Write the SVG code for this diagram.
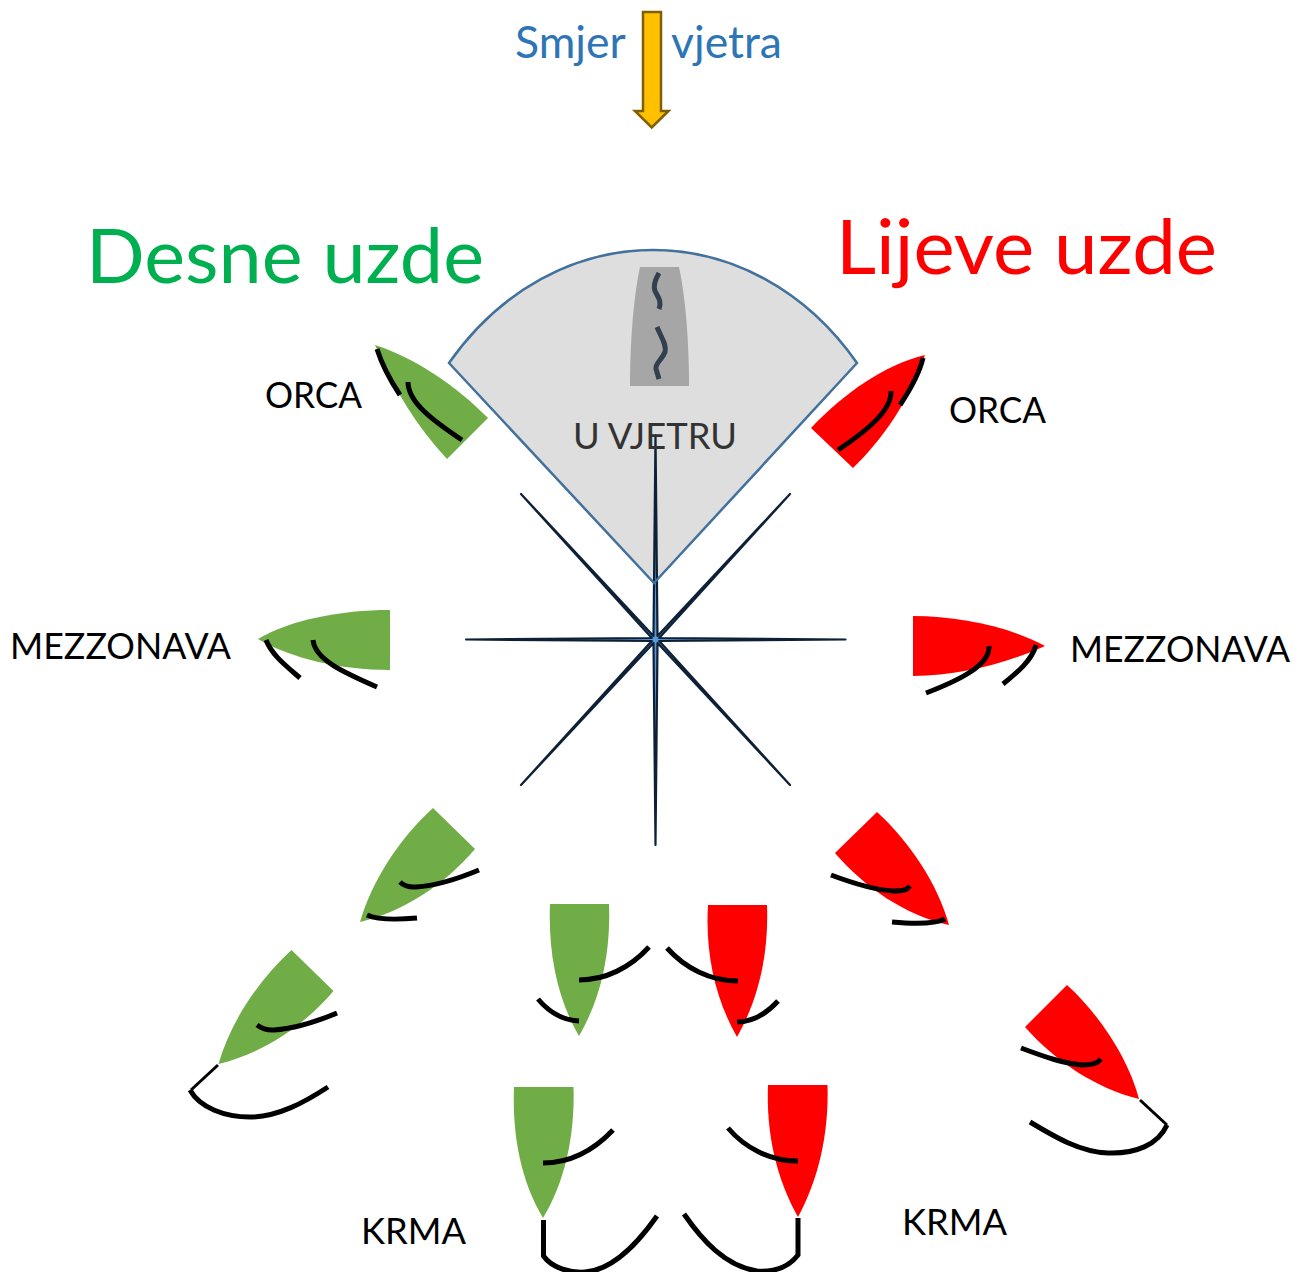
<svg xmlns="http://www.w3.org/2000/svg" width="1303" height="1272" viewBox="0 0 1303 1272">
<style>
text{font-family:"Lato","Carlito","Open Sans",sans-serif}
.g{fill:#70ad47}.r{fill:#ff0000}
.s{fill:none;stroke:#000;stroke-width:5}
.t{fill:none;stroke:#000;stroke-width:3}
.l{font-size:36px;fill:#000}
</style>
<rect width="1303" height="1272" fill="#fff"/>
<g id="fan"><path d="M449,363C500,290 575,250 653,250C731,250 806,290 857,363L654,583Z" fill="#dedede"/>
<path d="M640,267H679C686,300 689,345 689,386H630C630,345 633,300 640,267Z" fill="#a6a6a6"/>
<path d="M659,273C655,280 653,286 655,291C658,297 662,301 659,309M657,327C661,337 667,345 665,352C662,360 655,363 656,369L659,379" fill="none" stroke="#323f4f" stroke-width="5"/></g>
<g id="star"><polygon points="845.5,639.5 659.2,641 790,785 657.500,643 655.500,845 653.500,643 521,785 651.800,641 466,639.5 651.800,638 521,494 653.500,636 655.500,435 657.500,636 790,494 659.200,638" fill="#5b9bd5" stroke="#0d2036" stroke-width="2.2" stroke-linejoin="round"/></g>
<path id="fan-outline" d="M449,363C500,290 575,250 653,250C731,250 806,290 857,363L654,583Z" fill="none" stroke="#41719c" stroke-width="2.500"/>
<text id="label-vjetru" x="573" y="449" font-size="37" fill="#333" textLength="164" lengthAdjust="spacingAndGlyphs">U VJETRU</text>
<g id="wind"><text x="515" y="58" font-size="44.500" fill="#2e75b6">Smjer<tspan x="671">vjetra</tspan></text>
<polygon points="643,12 661,12 661,111 668.500,111 651.700,127.500 635,111 643,111" fill="#ffc000" stroke="#7f6000" stroke-width="2.500"/></g>
<text id="title-desne" x="86" y="283" font-size="76" fill="#00b050" textLength="398" lengthAdjust="spacingAndGlyphs">Desne uzde</text>
<text id="title-lijeve" x="836" y="274" font-size="76" fill="#ff0000" textLength="381" lengthAdjust="spacingAndGlyphs">Lijeve uzde</text>
<text class="l" x="265" y="408" textLength="97" lengthAdjust="spacingAndGlyphs">ORCA</text>
<text class="l" x="949" y="423" textLength="97" lengthAdjust="spacingAndGlyphs">ORCA</text>
<text class="l" x="10" y="659" textLength="221" lengthAdjust="spacingAndGlyphs">MEZZONAVA</text>
<text class="l" x="1070" y="662" textLength="220" lengthAdjust="spacingAndGlyphs">MEZZONAVA</text>
<text class="l" x="361" y="1244" textLength="105" lengthAdjust="spacingAndGlyphs">KRMA</text>
<text class="l" x="902" y="1235" textLength="105" lengthAdjust="spacingAndGlyphs">KRMA</text>
<g id="boat-g-orca"><path class="g" d="M375,345C415,358 455,385 488,418L447,459C418,428 394,390 375,345Z"/><path class="s" d="M377,349C382,365 390,380 400,395M408,382C408,402 432,420 462,440"/></g>
<g id="boat-r-orca"><path class="r" d="M925,355C885,365 845,392 811,428L853,468C882,440 910,400 925,355Z"/><path class="s" d="M923,358C919,375 910,390 900,405M891,391C892,410 868,430 838,450"/></g>
<g id="boat-g-mezzo"><path class="g" d="M258,639C290,620 340,610 390,610V670C340,670 290,658 258,639Z"/><path class="s" d="M266,640C272,655 285,665 300,678M313,640C315,660 345,673 377,687"/></g>
<g id="boat-r-mezzo"><path class="r" d="M913,616C960,616 1010,627 1045,646C1010,662 960,676 913,676Z"/><path class="s" d="M989,646C990,665 960,680 926,693M1036,645C1032,660 1018,672 1003,684"/></g>
<g id="boat-g-1"><path class="g" d="M360,922C372,880 400,838 433,808L475,849C445,884 405,911 360,922Z"/><path class="s" d="M479,870C455,880 432,886 416,887C408,887.5 403,885 400,882M417,918C395,920 378,920 367,915"/></g>
<g id="boat-g-2"><path class="g" d="M218.500,1064C230.500,1022 258.500,980 291.500,950L333.500,991C303.500,1026 263.500,1053 218.500,1064Z"/><path class="s" d="M337,1013C313,1023 290,1029 274,1030C266,1030.500 261,1028 257,1025M190,1090C200,1108 225,1117 250,1117C278,1117 305,1102 328,1087"/><path class="t" d="M218,1065L191,1090"/></g>
<g id="boat-g-3"><path class="g" d="M550,904C548,955 558,1000 579,1036C600,1000 611,955 609,904Z"/><path class="s" d="M649,947C630,968 605,980 579,980M538,999C548,1011 562,1020 579,1021"/></g>
<g id="boat-g-4"><path class="g" d="M514,1087C512,1138 522,1183 543,1218C564,1183 575,1138 573.500,1087Z"/><path class="s" d="M613,1130C594,1150 570,1163 543,1163"/><path class="s" d="M543.500,1220V1256C552,1268 570,1273 585,1272C615,1270 640,1240 657,1216"/></g>
<g id="boat-r-1"><path class="r" d="M708,905H767C769,955 758,1000 737,1037C716,1000 705,955 708,905Z"/><path class="s" d="M667,948C685,968 710,981 738,981M778,1001C767,1013 753,1022 737,1022"/></g>
<g id="boat-r-2"><path class="r" d="M768,1085H827.500C829,1135 818,1180 798,1217C777,1180 766,1135 768,1085Z"/><path class="s" d="M728,1128C745,1148 770,1161 798,1161"/><path class="s" d="M798,1218V1255C788,1268 772,1272 757,1271C725,1266 702,1240 684,1214"/></g>
<g id="boat-r-3"><path class="r" d="M877,812C910,842 938,885 949,925C905,915 865,888 835,853Z"/><path class="s" d="M831,875C855,884 875,890 893,891C903,891 907,890 910,886M892,922C915,924 935,924 945,919"/></g>
<g id="boat-r-4"><path class="r" d="M1067,985C1100,1015 1128,1058 1139,1099C1095,1088 1055,1061 1025,1027Z"/><path class="s" d="M1021,1048C1045,1057 1065,1064 1083,1065C1093,1065 1098,1063 1101,1059M1167,1125C1158,1145 1135,1154 1108,1153C1080,1152 1055,1137 1030,1122"/><path class="t" d="M1140,1100L1167,1125"/></g>
</svg>
